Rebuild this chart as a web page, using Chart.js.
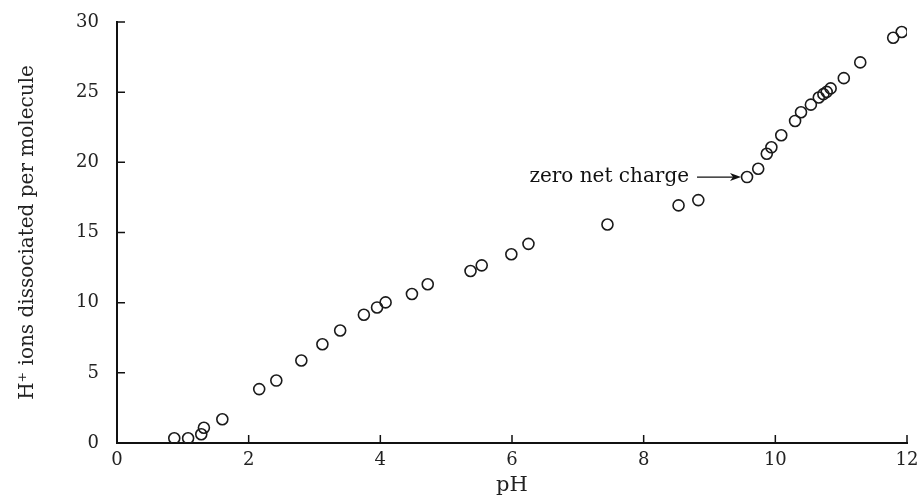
<!DOCTYPE html>
<html>
<head>
<meta charset="utf-8">
<script src="https://cdn.jsdelivr.net/npm/chart.js@4/dist/chart.umd.min.js"></script>
<style>
  html, body { margin: 0; padding: 0; background: #fff; }
</style>
</head>
<body>
<canvas id="chart" width="920" height="498"></canvas>
<script>
// titration points
const phValues = [0.87, 1.08, 1.28, 1.32, 1.60, 2.16, 2.42, 2.80, 3.12, 3.39,
                  3.75, 3.95, 4.08, 4.48, 4.72, 5.37, 5.54, 5.99, 6.25, 7.45,
                  8.53, 8.83, 9.57, 9.74, 9.87, 9.94, 10.09, 10.30, 10.39, 10.54,
                  10.66, 10.73, 10.78, 10.84, 11.04, 11.29, 11.79, 11.92];
const hIons = [0.34, 0.34, 0.62, 1.09, 1.69, 3.84, 4.45, 5.88, 7.04, 8.02,
               9.14, 9.66, 10.02, 10.62, 11.31, 12.26, 12.66, 13.45, 14.19, 15.57,
               16.93, 17.31, 18.95, 19.54, 20.61, 21.07, 21.93, 22.95, 23.57, 24.11,
               24.62, 24.86, 25.02, 25.27, 26.00, 27.12, 28.88, 29.29];
const xTicks = [0, 2, 4, 6, 8, 10, 12];
const yTicks = [0, 5, 10, 15, 20, 25, 30];
const noteText = 'zero net charge';
const noteIndex = 22; // point the arrow points at

const serif = 'DejaVu Serif';

// ticks drawn inward + the arrow label
const extras = {
    id: 'extras',
    afterDraw(chart) {
        const { ctx, chartArea, scales: { x, y } } = chart;
        ctx.save();
        ctx.strokeStyle = '#111';
        ctx.lineWidth = 1.5;
        ctx.beginPath();
        xTicks.forEach(v => {
            if (v === 0) return;
            const px = x.getPixelForValue(v);
            ctx.moveTo(px, chartArea.bottom);
            ctx.lineTo(px, chartArea.bottom - 8);
        });
        yTicks.forEach(v => {
            if (v === 0) return;
            const py = y.getPixelForValue(v);
            ctx.moveTo(chartArea.left, py);
            ctx.lineTo(chartArea.left + 8, py);
        });
        ctx.stroke();

        // arrow to the zero net charge point
        const px = x.getPixelForValue(phValues[noteIndex]);
        const py = y.getPixelForValue(hIons[noteIndex]);
        const tip = px - 6;
        ctx.lineWidth = 1.2;
        ctx.beginPath();
        ctx.moveTo(px - 50, py);
        ctx.lineTo(tip - 6, py);
        ctx.stroke();
        ctx.fillStyle = '#111';
        ctx.beginPath();
        ctx.moveTo(tip, py);
        ctx.lineTo(tip - 11, py - 4);
        ctx.lineTo(tip - 8, py);
        ctx.lineTo(tip - 11, py + 4);
        ctx.closePath();
        ctx.fill();

        ctx.font = '20px "' + serif + '"';
        ctx.textAlign = 'right';
        ctx.textBaseline = 'middle';
        ctx.fillText(noteText, px - 58, py);
        ctx.restore();
    }
};

new Chart(document.getElementById('chart'), {
    type: 'scatter',
    data: {
        datasets: [{
            data: phValues.map((v, i) => ({ x: v, y: hIons[i] })),
            pointRadius: 5.5,
            pointBorderWidth: 1.6,
            borderColor: '#1a1a1a',
            backgroundColor: 'rgba(255,255,255,0)'
        }]
    },
    options: {
        responsive: false,
        animation: false,
        layout: { padding: { top: 22, right: 13, left: 0, bottom: 0 } },
        plugins: { legend: { display: false }, tooltip: { enabled: false } },
        scales: {
            x: {
                type: 'linear',
                min: 0,
                max: 12,
                afterFit: s => { s.height = 55; s.paddingLeft = 0; s.paddingRight = 0; },
                afterBuildTicks: s => { s.ticks = xTicks.map(v => ({ value: v })); },
                grid: { drawOnChartArea: false, drawTicks: false },
                border: { color: '#111', width: 2 },
                ticks: { color: '#222', padding: 7, font: { family: serif, size: 18 } },
                title: {
                    display: true,
                    text: 'pH',
                    color: '#222',
                    padding: { top: 0, bottom: 0 },
                    font: { family: serif, size: 21 }
                }
            },
            y: {
                type: 'linear',
                min: 0,
                max: 30,
                afterFit: s => { s.width = 117; s.paddingTop = 0; s.paddingBottom = 0; },
                afterBuildTicks: s => { s.ticks = yTicks.map(v => ({ value: v })); },
                grid: { drawOnChartArea: false, drawTicks: false },
                border: { color: '#111', width: 2 },
                ticks: { color: '#222', padding: 18, font: { family: serif, size: 18 } },
                title: {
                    display: true,
                    text: 'H⁺ ions dissociated per molecule',
                    color: '#222',
                    padding: { top: 16, bottom: 0 },
                    font: { family: serif, size: 20 }
                }
            }
        }
    },
    plugins: [extras]
});
</script>
</body>
</html>
